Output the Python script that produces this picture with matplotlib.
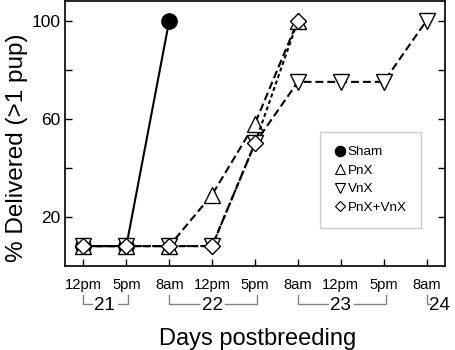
import matplotlib
matplotlib.use("Agg")
import matplotlib.pyplot as plt
from matplotlib.lines import Line2D

plt.rcParams['font.family'] = ['Liberation Sans', 'DejaVu Sans']

# ---- data ----
time_labels = ['12pm', '5pm', '8am', '12pm', '5pm', '8am', '12pm', '5pm', '8am']
day_labels = ['21', '22', '23', '24']
day_spans = [(0, 1), (2, 4), (5, 7), (8, 8)]

sham = [8, 8, 100]
pnx = [8, 8, 8, 29, 58, 100]
vnx = [8, 8, 8, 8, 50, 75, 75, 75, 100]
pnx_vnx = [8, 8, 8, 8, 50, 100]

y_ticks = [20, 40, 60, 80, 100]
y_ticklabels = ['20', '', '60', '', '100']

# ---- figure ----
fig = plt.figure(figsize=(4.56, 3.50), dpi=100)
ax = fig.add_axes([65/456, 1-265.7/350, 380/456, 264.7/350])

lw = 1.5
ms = 11
ax.plot(range(len(sham)), sham, color='black', lw=lw, marker='o', ms=ms,
        mfc='black', mec='black', label='Sham', zorder=3)
ax.plot(range(len(pnx)), pnx, color='black', lw=lw, dashes=(3.8, 1.9),
        marker='^', ms=ms, mfc='white', mec='black', mew=1.0, label='PnX', zorder=4)
ax.plot(range(len(vnx)), vnx, color='black', lw=lw, dashes=(3.8, 1.9),
        marker='v', ms=ms, mfc='white', mec='black', mew=1.0, label='VnX', zorder=5)
ax.plot(range(len(pnx_vnx)), pnx_vnx, color='black', lw=lw, dashes=(1.9, 1.4),
        marker='D', ms=ms*0.78, mfc='white', mec='black', mew=1.0, label='PnX+VnX', zorder=6)

ax.set_xlim(-0.43, 8.43)
ax.set_ylim(0, 108)
ax.set_xticks(range(len(time_labels)))
ax.set_xticklabels(time_labels, fontsize=10.6)
ax.set_yticks(y_ticks)
ax.set_yticklabels(y_ticklabels, fontsize=12.5)
ax.tick_params(axis='x', direction='in', length=5, width=1, pad=9)
ax.tick_params(axis='y', direction='in', length=5, width=1, pad=3.5, right=True)
for s in ax.spines.values():
    s.set_linewidth(1.2)

ax.set_ylabel('% Delivered (>1 pup)', fontsize=17.5)
ax.yaxis.set_label_coords((28 - 65) / 380, 0.447)
ax.set_xlabel('Days postbreeding', fontsize=17, va='baseline')
ax.xaxis.set_label_coords(0.5066, (265.7 - 345) / 264.7)

# day brackets below the tick labels
tr = ax.get_xaxis_transform()
y_top = (265.7 - 294.5) / 264.7
y_bot = (265.7 - 304) / 264.7
y_txt = (265.7 - 305.5) / 264.7
gcol = '#808080'
for lab, (a, b) in zip(day_labels, day_spans):
    mid = (a + b) / 2
    if a == b:
        ax.plot([a, a, a + 0.08], [y_top, y_bot, y_bot], color=gcol, lw=1,
                transform=tr, clip_on=False)
        ax.text(a + 0.06, y_txt, lab, transform=tr, ha='left', va='center',
                fontsize=13.5)
    else:
        half = 0.3
        ax.plot([a, a, mid - half], [y_top, y_bot, y_bot], color=gcol, lw=1,
                transform=tr, clip_on=False)
        ax.plot([mid + half, b + 0.05, b + 0.05], [y_bot, y_bot, y_top], color=gcol, lw=1,
                transform=tr, clip_on=False)
        ax.text(mid, y_txt, lab, transform=tr, ha='center', va='center',
                fontsize=13.5)

handles = ax.get_lines()[:4]
leg_handles = [Line2D([], [], ls='none', marker=h.get_marker(),
                      ms=7.5 if h.get_marker() != 'D' else 5.5,
                      mfc=h.get_markerfacecolor(), mec='black', mew=0.8) for h in handles]
leg = ax.legend(leg_handles, [h.get_label() for h in handles], loc='upper left',
                bbox_to_anchor=((320 - 65) / 380, (265.7 - 131.7) / 264.7),
                fontsize=9.7, frameon=True,
                fancybox=False, edgecolor='#c0c0c0', handlelength=0.8,
                handletextpad=0.2, borderpad=1.05, labelspacing=0.45,
                borderaxespad=0)
leg.get_frame().set_linewidth(1.0)

fig.savefig('out.png', dpi=100)
